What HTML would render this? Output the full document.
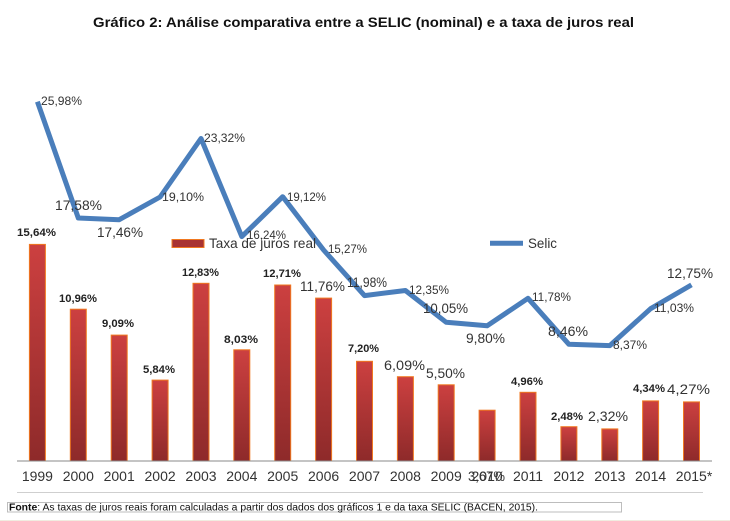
<!DOCTYPE html>
<html>
<head>
<meta charset="utf-8">
<style>
html,body{margin:0;padding:0;background:#fff;}
svg{display:block;}
text{font-family:"Liberation Sans",Arial,sans-serif;}
</style>
</head>
<body>
<svg width="730" height="521" viewBox="0 0 730 521" xmlns="http://www.w3.org/2000/svg">
<defs>
<linearGradient id="bg" x1="0" y1="0" x2="0" y2="1">
<stop offset="0" stop-color="#cc4040"/>
<stop offset="1" stop-color="#8e2a2a"/>
</linearGradient>
</defs>
<rect width="730" height="521" fill="#fff"/>

<!-- Title -->
<text x="93" y="27" font-size="14" font-weight="bold" fill="#111" textLength="541" lengthAdjust="spacingAndGlyphs">Gráfico 2: Análise comparativa entre a SELIC (nominal) e a taxa de juros real</text>

<!-- Bars -->
<g fill="url(#bg)" stroke="#f07820" stroke-width="1">
<rect x="29.4" y="244.4" width="16" height="216.6"/>
<rect x="70.3" y="309.2" width="16" height="151.8"/>
<rect x="111.2" y="335.1" width="16" height="125.9"/>
<rect x="152.1" y="380.1" width="16" height="80.9"/>
<rect x="193.0" y="283.3" width="16" height="177.7"/>
<rect x="233.8" y="349.8" width="16" height="111.2"/>
<rect x="274.7" y="285.0" width="16" height="176.0"/>
<rect x="315.6" y="298.1" width="16" height="162.9"/>
<rect x="356.5" y="361.3" width="16" height="99.7"/>
<rect x="397.4" y="376.7" width="16" height="84.3"/>
<rect x="438.2" y="384.8" width="16" height="76.2"/>
<rect x="479.1" y="410.2" width="16" height="50.8"/>
<rect x="520.0" y="392.3" width="16" height="68.7"/>
<rect x="560.9" y="426.7" width="16" height="34.3"/>
<rect x="601.8" y="428.9" width="16" height="32.1"/>
<rect x="642.6" y="400.9" width="16" height="60.1"/>
<rect x="683.5" y="401.9" width="16" height="59.1"/>
</g>

<!-- Axis -->
<line x1="17" y1="461" x2="712" y2="461" stroke="#8a8a8a" stroke-width="1"/>

<!-- Year labels -->
<g font-size="14" fill="#333" text-anchor="middle">
<text x="37.4" y="481">1999</text>
<text x="78.3" y="481">2000</text>
<text x="119.2" y="481">2001</text>
<text x="160.1" y="481">2002</text>
<text x="201.0" y="481">2003</text>
<text x="241.8" y="481">2004</text>
<text x="282.7" y="481">2005</text>
<text x="323.6" y="481">2006</text>
<text x="364.5" y="481">2007</text>
<text x="405.4" y="481">2008</text>
<text x="446.2" y="481">2009</text>
<text x="487.1" y="481">2010</text>
<text x="528.0" y="481">2011</text>
<text x="568.9" y="481">2012</text>
<text x="609.8" y="481">2013</text>
<text x="650.6" y="481">2014</text>
<text x="694" y="481">2015*</text>
</g>

<!-- Bar labels bold -->
<g font-size="11" font-weight="bold" fill="#222">
<text x="17" y="236" textLength="39" lengthAdjust="spacingAndGlyphs">15,64%</text>
<text x="59" y="302" textLength="38" lengthAdjust="spacingAndGlyphs">10,96%</text>
<text x="102" y="327" textLength="32" lengthAdjust="spacingAndGlyphs">9,09%</text>
<text x="143" y="373" textLength="32" lengthAdjust="spacingAndGlyphs">5,84%</text>
<text x="182" y="276" textLength="37" lengthAdjust="spacingAndGlyphs">12,83%</text>
<text x="224" y="343" textLength="34" lengthAdjust="spacingAndGlyphs">8,03%</text>
<text x="263" y="277" textLength="38" lengthAdjust="spacingAndGlyphs">12,71%</text>
<text x="348" y="352" textLength="31" lengthAdjust="spacingAndGlyphs">7,20%</text>
<text x="511" y="385" textLength="32" lengthAdjust="spacingAndGlyphs">4,96%</text>
<text x="551" y="420" textLength="32" lengthAdjust="spacingAndGlyphs">2,48%</text>
<text x="633" y="392" textLength="32" lengthAdjust="spacingAndGlyphs">4,34%</text>
</g>
<!-- Bar labels normal large -->
<g font-size="14" fill="#333">
<text x="300" y="291" textLength="45" lengthAdjust="spacingAndGlyphs">11,76%</text>
<text x="384" y="370" textLength="41" lengthAdjust="spacingAndGlyphs">6,09%</text>
<text x="426" y="378" textLength="39" lengthAdjust="spacingAndGlyphs">5,50%</text>
<text x="468" y="481" textLength="37" lengthAdjust="spacingAndGlyphs">3,67%</text>
<text x="588" y="421" textLength="40" lengthAdjust="spacingAndGlyphs">2,32%</text>
<text x="667" y="394" textLength="43" lengthAdjust="spacingAndGlyphs">4,27%</text>
</g>

<!-- Selic line -->
<polyline fill="none" stroke="#4a7ebb" stroke-width="5" stroke-linejoin="round" stroke-linecap="butt"
points="37.4,101.7 78.3,218.0 119.2,219.7 160.1,197.0 201.0,138.5 241.8,236.6 282.7,196.7 323.6,250.0 364.5,295.6 405.4,290.5 446.2,322.3 487.1,325.8 528.0,298.3 568.9,344.3 609.8,345.6 650.6,308.7 691.5,284.9"/>

<!-- Selic labels -->
<g font-size="12" fill="#333">
<text x="41" y="105" textLength="41" lengthAdjust="spacingAndGlyphs">25,98%</text>
<text x="162" y="201" textLength="42" lengthAdjust="spacingAndGlyphs">19,10%</text>
<text x="204" y="142" textLength="41" lengthAdjust="spacingAndGlyphs">23,32%</text>
<text x="247" y="239" textLength="39" lengthAdjust="spacingAndGlyphs">16,24%</text>
<text x="287" y="201" textLength="39" lengthAdjust="spacingAndGlyphs">19,12%</text>
<text x="328" y="253" textLength="39" lengthAdjust="spacingAndGlyphs">15,27%</text>
<text x="409" y="294" textLength="40" lengthAdjust="spacingAndGlyphs">12,35%</text>
<text x="532" y="301" textLength="39" lengthAdjust="spacingAndGlyphs">11,78%</text>
<text x="613" y="349" textLength="34" lengthAdjust="spacingAndGlyphs">8,37%</text>
<text x="654" y="312" textLength="40" lengthAdjust="spacingAndGlyphs">11,03%</text>
</g>
<g font-size="14" fill="#333">
<text x="55" y="210" textLength="47" lengthAdjust="spacingAndGlyphs">17,58%</text>
<text x="97" y="237" textLength="46" lengthAdjust="spacingAndGlyphs">17,46%</text>
<text x="347" y="287" textLength="40" lengthAdjust="spacingAndGlyphs">11,98%</text>
<text x="423" y="313" textLength="45" lengthAdjust="spacingAndGlyphs">10,05%</text>
<text x="466" y="343" textLength="39" lengthAdjust="spacingAndGlyphs">9,80%</text>
<text x="548" y="336" textLength="40" lengthAdjust="spacingAndGlyphs">8,46%</text>
<text x="667" y="278" textLength="46" lengthAdjust="spacingAndGlyphs">12,75%</text>
</g>

<!-- Legend -->
<rect x="172" y="239.5" width="32" height="8" fill="#a83232" stroke="#f07820" stroke-width="1"/>
<text x="209" y="248" font-size="14" fill="#333" textLength="107" lengthAdjust="spacingAndGlyphs">Taxa de juros real</text>
<line x1="490" y1="243.3" x2="523" y2="243.3" stroke="#4a7ebb" stroke-width="5"/>
<text x="528" y="248" font-size="14" fill="#333" textLength="29" lengthAdjust="spacingAndGlyphs">Selic</text>

<!-- Separator -->
<line x1="17" y1="492.5" x2="703" y2="492.5" stroke="#cfcfcf" stroke-width="1"/>

<!-- Footer -->
<rect x="7.5" y="502.5" width="614" height="9.5" fill="#fff" stroke="#bdbdbd" stroke-width="1"/>
<text x="9" y="510.5" font-size="10" fill="#111" textLength="529" lengthAdjust="spacingAndGlyphs"><tspan font-weight="bold">Fonte</tspan>: As taxas de juros reais foram calculadas a partir dos dados dos gráficos 1 e da taxa SELIC (BACEN, 2015).</text>
<line x1="0" y1="520.5" x2="730" y2="520.5" stroke="#f0ece0" stroke-width="1"/>
</svg>
</body>
</html>
